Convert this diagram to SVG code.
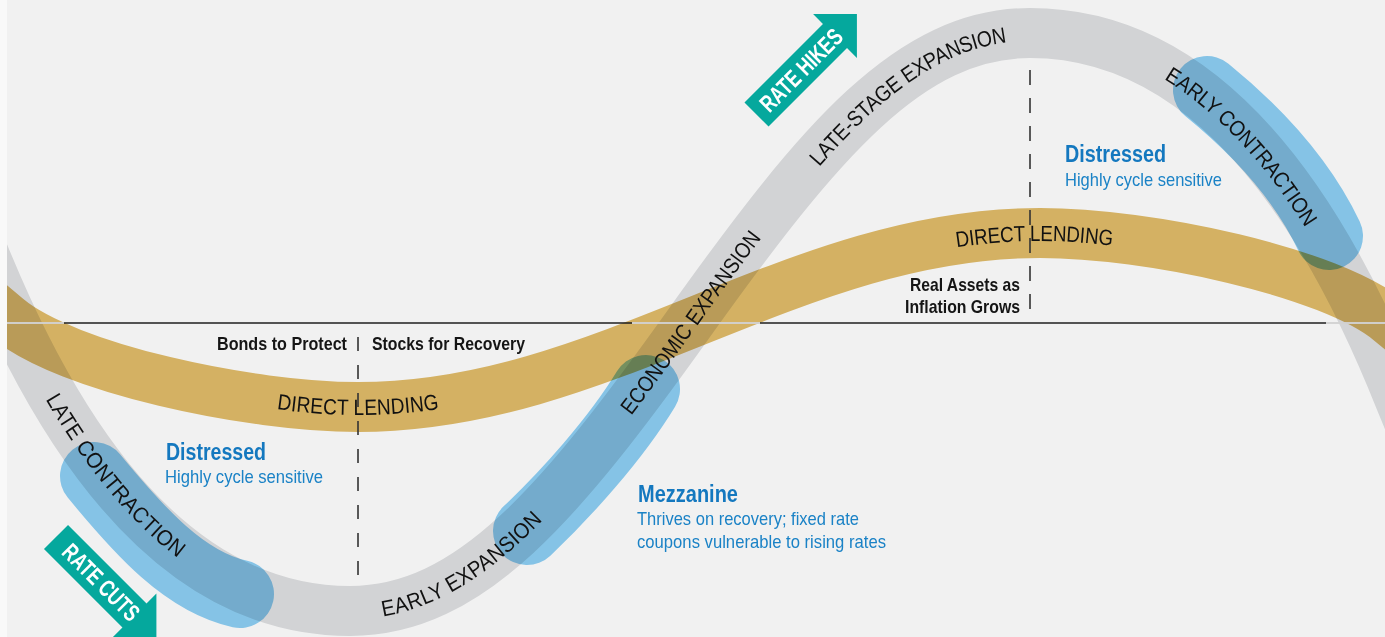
<svg xmlns="http://www.w3.org/2000/svg" width="1385" height="637" viewBox="0 0 1385 637">
  <defs>
    <style>
      .bg{fill:#f1f1f1}
      .band{fill:none;mix-blend-mode:multiply}
      .gray{stroke:#dfe0e2;stroke-width:50}
      .gold{stroke:#e1bc69;stroke-width:50}
      .hl{fill:none;stroke:#8dcff4;stroke-width:68;stroke-linecap:round;mix-blend-mode:multiply}
      .axis{stroke:#1e1e1e;stroke-width:1.5}
      .knock{stroke:#ffffff;stroke-width:1.5}
      .dash{stroke:#333333;stroke-width:1.6;fill:none}
      text{font-family:"Liberation Sans Narrow","Liberation Sans",Arial,sans-serif}
      .lbl{font-size:22px;fill:#111111}
      .note{font-size:18.5px;font-weight:bold;fill:#151515}
      .head{font-size:23.5px;font-weight:bold;fill:#1478bf}
      .sub{font-size:19px;fill:#1a82c6}
      .arrow{fill:#05a89d}
      .arrow text{font-size:24px;font-weight:bold;fill:#ffffff}
    </style>
    <!-- centre lines used for the curved labels -->
    <path id="lbl-L" d="M-20,244 C70,470 190,611 350,611"/>
    <path id="lbl-M" d="M350,611 C470,611 560,504 690,322 C820,140 910,33 1030,33"/>
    <path id="lbl-R" d="M1030,33 C1190,33 1310,174 1400,400"/>
    <path id="gold-lo" d="M17,320 C128.2,364.6 234.6,407 358,407 C481.4,407 587.8,364.6 699,320"/>
    <path id="gold-hi" d="M699,320 C810.2,275.4 916.6,233 1040,233 C1163.4,233 1269.8,275.4 1381,320"/>
    <clipPath id="frame"><rect x="7" y="0" width="1378" height="637"/></clipPath>
  </defs>

  <rect width="1385" height="637" fill="#f9f9f9"/>

  <g clip-path="url(#frame)">
    <rect class="bg" x="0" y="0" width="1385" height="637"/>

    <!-- economic cycle (grey) and direct lending (gold) bands -->
    <g id="bands">
      <path id="cycle-band" class="band gray" d="M-45,183 L-20,244 C70,470 190,611 350,611 C470,611 560,504 690,322 C820,140 910,33 1030,33 C1190,33 1310,174 1400,400 L1425,461"/>
      <path id="lending-band" class="band gold" d="M-40,278.5 L7,318 C67,368.4 250,407 358,407 C481.4,407 587.8,364.6 699,320 C810.2,275.4 916.6,233 1040,233 C1148,233 1331,271.6 1391,322 L1440,363"/>
    </g>

    <!-- strategy highlights -->
    <g id="highlights">
      <path id="hl-distressed-low" class="hl" d="M94,476 C140,532 185,582 240,594"/>
      <path id="hl-mezzanine" class="hl" d="M527,531 C565,495 615,440 646,389"/>
      <path id="hl-distressed-high" class="hl" d="M1207,90 C1250,125 1300,175 1329,236"/>
    </g>

    <!-- baseline and phase dividers -->
    <g id="connectors">
      <line class="axis" x1="7" y1="323" x2="1385" y2="323"/>
      <line class="knock" x1="7" y1="323" x2="64" y2="323"/>
      <line class="knock" x1="632" y1="323" x2="760" y2="323"/>
      <line class="knock" x1="1326" y1="323" x2="1385" y2="323"/>
      <line class="dash" x1="358" y1="337" x2="358" y2="588" stroke-dasharray="14 14"/>
      <line class="dash" x1="1030" y1="70" x2="1030" y2="322" stroke-dasharray="15 13"/>
    </g>

    <!-- phase labels along the cycle -->
    <g id="band-labels" class="lbl">
      <text dy="8"><textPath href="#lbl-L" startOffset="48.8%" text-anchor="middle" textLength="205" lengthAdjust="spacingAndGlyphs">LATE CONTRACTION</textPath></text>
      <text dy="8"><textPath href="#lbl-M" startOffset="13.4%" text-anchor="middle" textLength="185" lengthAdjust="spacingAndGlyphs">EARLY EXPANSION</textPath></text>
      <text dy="8"><textPath href="#lbl-M" startOffset="50%" text-anchor="middle" textLength="220" lengthAdjust="spacingAndGlyphs">ECONOMIC EXPANSION</textPath></text>
      <text dy="8"><textPath href="#lbl-M" startOffset="84.6%" text-anchor="middle" textLength="236" lengthAdjust="spacingAndGlyphs">LATE-STAGE EXPANSION</textPath></text>
      <text dy="8"><textPath href="#lbl-R" startOffset="45.3%" text-anchor="middle" textLength="210" lengthAdjust="spacingAndGlyphs">EARLY CONTRACTION</textPath></text>
      <text dy="8"><textPath href="#gold-lo" startOffset="50%" text-anchor="middle" textLength="161" lengthAdjust="spacingAndGlyphs">DIRECT LENDING</textPath></text>
      <text dy="8"><textPath href="#gold-hi" startOffset="49.2%" text-anchor="middle" textLength="158" lengthAdjust="spacingAndGlyphs">DIRECT LENDING</textPath></text>
    </g>

    <!-- allocation notes -->
    <g id="notes">
      <text class="note" x="217" y="350" textLength="130" lengthAdjust="spacingAndGlyphs">Bonds to Protect</text>
      <text class="note" x="372" y="350" textLength="153" lengthAdjust="spacingAndGlyphs">Stocks for Recovery</text>
      <text class="note" x="910" y="290.5" textLength="110" lengthAdjust="spacingAndGlyphs">Real Assets as</text>
      <text class="note" x="905" y="313" textLength="115" lengthAdjust="spacingAndGlyphs">Inflation Grows</text>
    </g>

    <g id="distressed-low">
      <text class="head" x="166" y="460" textLength="100" lengthAdjust="spacingAndGlyphs">Distressed</text>
      <text class="sub" x="165" y="483" textLength="158" lengthAdjust="spacingAndGlyphs">Highly cycle sensitive</text>
    </g>
    <g id="distressed-high">
      <text class="head" x="1065" y="162" textLength="101" lengthAdjust="spacingAndGlyphs">Distressed</text>
      <text class="sub" x="1065" y="186" textLength="157" lengthAdjust="spacingAndGlyphs">Highly cycle sensitive</text>
    </g>
    <g id="mezzanine">
      <text class="head" x="638" y="502" textLength="100" lengthAdjust="spacingAndGlyphs">Mezzanine</text>
      <text class="sub" x="637" y="525" textLength="222" lengthAdjust="spacingAndGlyphs">Thrives on recovery; fixed rate</text>
      <text class="sub" x="637" y="548" textLength="249" lengthAdjust="spacingAndGlyphs">coupons vulnerable to rising rates</text>
    </g>

    <!-- rate direction arrows -->
    <g id="arrow-hikes" class="arrow" transform="translate(756.5,114.5) rotate(-45)">
      <polygon points="0,-17 111,-17 111,-31 142,0 111,31 111,17 0,17"/>
      <text x="63" y="8.5" text-anchor="middle" textLength="106" lengthAdjust="spacingAndGlyphs">RATE HIKES</text>
    </g>
    <g id="arrow-cuts" class="arrow" transform="translate(56,537) rotate(45)">
      <polygon points="0,-17 111,-17 111,-31 142,0 111,31 111,17 0,17"/>
      <text x="64" y="8.5" text-anchor="middle" textLength="98" lengthAdjust="spacingAndGlyphs">RATE CUTS</text>
    </g>
  </g>
</svg>
